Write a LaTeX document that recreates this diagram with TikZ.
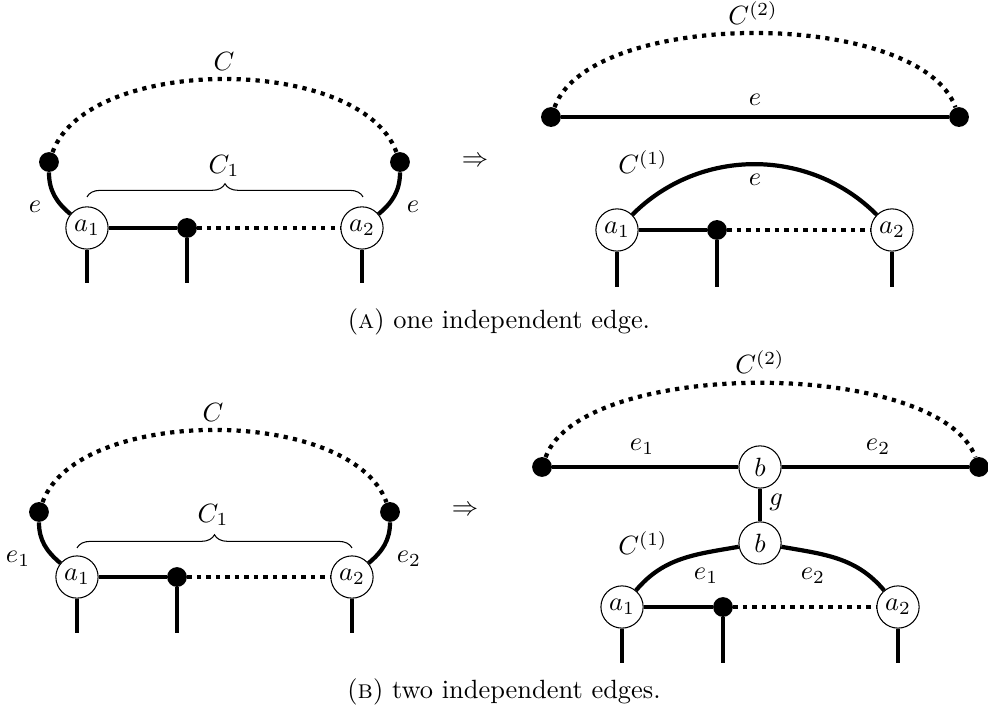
\documentclass[tikz,border=0pt]{standalone}
\usepackage{tikz}
\usetikzlibrary{decorations.pathreplacing}
\usepackage{amsmath}
\usepackage{amssymb}

\begin{document}
\begin{tikzpicture}[
    vertex/.style={circle, draw, fill=white, inner sep=0pt, minimum size=16pt},
    blob/.style={circle, fill=black, inner sep=0pt, minimum size=7.5pt},
    edge/.style={line width=1.6pt},
    chain/.style={line width=1.6pt, dotted},
    brace/.style={decorate, decoration={brace, amplitude=5pt}}
]
    \useasboundingbox (0,0) rectangle (13.153,9.572);

    % (A) links
    \node[blob] (ulp) at (0.652,7.415) {};
    \node[blob] (ulq) at (5.325,7.415) {};
    \node[vertex] (ula1) at (1.158,6.537) {$a_1$};
    \node[vertex] (ula2) at (4.819,6.537) {$a_2$};
    \node[blob] (ulm) at (2.490,6.537) {};
    \coordinate (ula1f) at (1.158,5.804);
    \coordinate (ulmf) at (2.490,5.804);
    \coordinate (ula2f) at (4.819,5.804);
    \node (ulC) at (2.982,8.747) {$C$};
    \node (ulC1) at (2.982,7.362) {$C_1$};
    \node (ule1) at (0.466,6.816) {$e$};
    \node (ule2) at (5.498,6.816) {$e$};
    \node (ularr) at (6.324,7.415) {$\Rightarrow$};

    \draw[chain] (ulp) to[out=70,in=110,looseness=0.775] (ulq);
    \draw[edge] (ulp) to[out=-90,in=140] (ula1);
    \draw[edge] (ulq) to[out=-90,in=40] (ula2);
    \draw[edge] (ula1) -- (ulm);
    \draw[chain] (ulm) -- (ula2);
    \draw[edge] (ula1) -- (ula1f);
    \draw[edge] (ulm) -- (ulmf);
    \draw[edge] (ula2) -- (ula2f);
    \draw[brace] (1.158,6.95) -- (4.833,6.95);

    % (A) rechts
    \node[blob] (urp) at (7.335,8.014) {};
    \node[blob] (urq) at (12.767,8.014) {};
    \node[vertex] (ura1) at (8.214,6.510) {$a_1$};
    \node[vertex] (ura2) at (11.875,6.510) {$a_2$};
    \node[blob] (urm) at (9.545,6.510) {};
    \coordinate (ura1f) at (8.214,5.751);
    \coordinate (urmf) at (9.545,5.751);
    \coordinate (ura2f) at (11.875,5.751);
    \node (urC2) at (10.025,9.399) {$C^{(2)}$};
    \node (ure) at (10.052,8.241) {$e$};
    \node (urC1) at (8.560,7.415) {$C^{(1)}$};
    \node (urea) at (10.052,7.176) {$e$};

    \draw[chain] (urp) to[out=70,in=110,looseness=0.674] (urq);
    \draw[edge] (urp) -- (urq);
    \draw[edge] (ura1) to[out=45,in=135] (ura2);
    \draw[edge] (ura1) -- (urm);
    \draw[chain] (urm) -- (ura2);
    \draw[edge] (ura1) -- (ura1f);
    \draw[edge] (urm) -- (urmf);
    \draw[edge] (ura2) -- (ura2f);

    \node (capA) at (6.643,5.285) {(\textsc{a}) one independent edge.};

    % (B) links
    \node[blob] (llp) at (0.519,2.756) {};
    \node[blob] (llq) at (5.192,2.756) {};
    \node[vertex] (lla1) at (1.025,1.890) {$a_1$};
    \node[vertex] (lla2) at (4.686,1.890) {$a_2$};
    \node[blob] (llm) at (2.356,1.890) {};
    \coordinate (lla1f) at (1.025,1.145);
    \coordinate (llmf) at (2.356,1.145);
    \coordinate (lla2f) at (4.686,1.145);
    \node (llC) at (2.836,4.087) {$C$};
    \node (llC1) at (2.836,2.716) {$C_1$};
    \node (lle1) at (0.240,2.130) {$e_1$};
    \node (lle2) at (5.445,2.130) {$e_2$};
    \node (llarr) at (6.191,2.769) {$\Rightarrow$};

    \draw[chain] (llp) to[out=70,in=110,looseness=0.765] (llq);
    \draw[edge] (llp) to[out=-90,in=140] (lla1);
    \draw[edge] (llq) to[out=-90,in=40] (lla2);
    \draw[edge] (lla1) -- (llm);
    \draw[chain] (llm) -- (lla2);
    \draw[edge] (lla1) -- (lla1f);
    \draw[edge] (llm) -- (llmf);
    \draw[edge] (lla2) -- (lla2f);
    \draw[brace] (1.025,2.277) -- (4.686,2.277);

    % (B) rechts
    \node[blob] (lrp) at (7.216,3.355) {};
    \node[blob] (lrq) at (13.033,3.355) {};
    \node[vertex] (lrb1) at (10.118,3.355) {$b$};
    \node[vertex] (lrb2) at (10.118,2.343) {$b$};
    \node[vertex] (lra1) at (8.281,1.491) {$a_1$};
    \node[vertex] (lra2) at (11.955,1.491) {$a_2$};
    \node[blob] (lrm) at (9.625,1.491) {};
    \coordinate (lra1f) at (8.281,0.746);
    \coordinate (lrmf) at (9.625,0.746);
    \coordinate (lra2f) at (11.955,0.746);
    \node (lrC2) at (10.118,4.753) {$C^{(2)}$};
    \node (lre1) at (8.547,3.621) {$e_1$};
    \node (lre2) at (11.689,3.621) {$e_2$};
    \node (lrg) at (10.331,2.889) {$g$};
    \node (lrC1) at (8.560,2.343) {$C^{(1)}$};
    \node (lre1a) at (9.399,1.904) {$e_1$};
    \node (lre2a) at (10.823,1.904) {$e_2$};

    \draw[chain] (lrp) to[out=70,in=110,looseness=0.63] (lrq);
    \draw[edge] (lrp) -- (lrb1);
    \draw[edge] (lrb1) -- (lrq);
    \draw[edge] (lrb1) -- (lrb2);
    \draw[edge] (lra1) to[out=50,in=190] (lrb2);
    \draw[edge] (lrb2) to[out=-10,in=130] (lra2);
    \draw[edge] (lra1) -- (lrm);
    \draw[chain] (lrm) -- (lra2);
    \draw[edge] (lra1) -- (lra1f);
    \draw[edge] (lrm) -- (lrmf);
    \draw[edge] (lra2) -- (lra2f);

    \node (capB) at (6.710,0.359) {(\textsc{b}) two independent edges.};
\end{tikzpicture}
\end{document}
